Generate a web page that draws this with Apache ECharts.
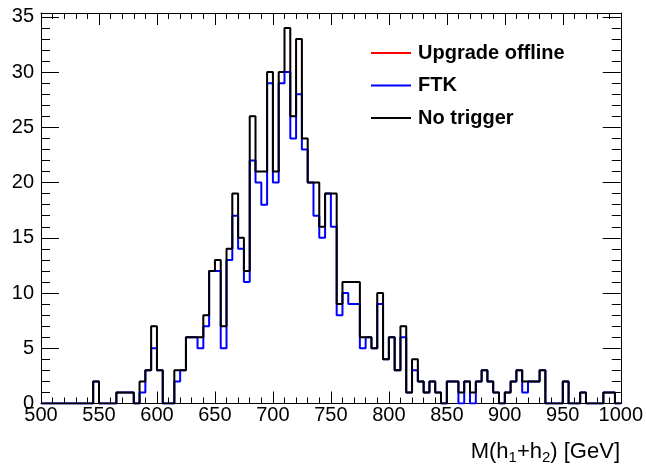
<!DOCTYPE html>
<html>
<head>
<meta charset="utf-8">
<script src="https://cdn.jsdelivr.net/npm/echarts@6/dist/echarts.min.js"></script>
<style>
  html, body { margin: 0; padding: 0; background: #fff; }
  #chart { width: 646px; height: 472px; }
</style>
</head>
<body>
<div id="chart"></div>
<script>
// 100 bins of 5 GeV from 500 to 1000
const binLow = 500;
const binWidth = 5;

const noTrigger = [
  0, 0, 0, 0, 0, 0, 0, 0, 0, 2,
  0, 0, 0, 1, 1, 1, 0, 2, 3, 7,
  3, 0, 0, 3, 3, 6, 6, 6, 8, 12,
  13, 7, 14, 19, 15, 12, 26, 21, 21, 30,
  21, 30, 34, 26, 33, 24, 20, 20, 16, 19,
  19, 9, 11, 11, 11, 6, 6, 5, 10, 4,
  6, 3, 7, 1, 4, 2, 1, 2, 1, 0,
  2, 2, 1, 2, 1, 2, 3, 2, 1, 0,
  1, 2, 3, 2, 2, 2, 3, 0, 0, 0,
  2, 0, 0, 1, 0, 0, 0, 1, 1, 0
];

const ftk = [
  0, 0, 0, 0, 0, 0, 0, 0, 0, 2,
  0, 0, 0, 1, 1, 1, 0, 1, 3, 5,
  3, 0, 0, 2, 3, 6, 6, 5, 7, 12,
  12, 5, 13, 17, 14, 11, 22, 20, 18, 29,
  20, 29, 30, 24, 28, 23, 20, 17, 15, 19,
  16, 8, 10, 9, 9, 5, 6, 5, 9, 4,
  6, 3, 6, 1, 3, 2, 1, 2, 1, 0,
  2, 2, 0, 2, 0, 2, 3, 2, 1, 0,
  1, 2, 3, 1, 2, 2, 3, 0, 0, 0,
  2, 0, 0, 1, 0, 0, 0, 1, 1, 0
];

// hidden under the black curve in the picture
const upgradeOffline = [
  0, 0, 0, 0, 0, 0, 0, 0, 0, 2,
  0, 0, 0, 1, 1, 1, 0, 2, 3, 7,
  3, 0, 0, 3, 3, 6, 6, 6, 8, 12,
  13, 7, 14, 19, 15, 12, 26, 21, 21, 30,
  21, 30, 34, 26, 33, 24, 20, 20, 16, 19,
  19, 9, 11, 11, 11, 6, 6, 5, 10, 4,
  6, 3, 7, 1, 4, 2, 1, 2, 1, 0,
  2, 2, 1, 2, 1, 2, 3, 2, 1, 0,
  1, 2, 3, 2, 2, 2, 3, 0, 0, 0,
  2, 0, 0, 1, 0, 0, 0, 1, 1, 0
];

const xTicks = [500, 550, 600, 650, 700, 750, 800, 850, 900, 950, 1000];
const yTicks = [0, 5, 10, 15, 20, 25, 30, 35];

function stepData(counts) {
  const pts = counts.map((c, i) => [binLow + i * binWidth, c]);
  pts.push([binLow + counts.length * binWidth, counts[counts.length - 1]]);
  return pts;
}

const font = 'Liberation Sans, Arial, sans-serif';
const black = '#000';

function xAxisDef(pos, labels) {
  return {
    type: 'value', position: pos, min: 500, max: 1000, interval: 50,
    axisLine: { show: true, onZero: false, lineStyle: { color: black, width: 1 } },
    axisTick: { show: true, inside: true, length: 12, lineStyle: { color: black } },
    minorTick: { show: true, splitNumber: 5, length: 6, lineStyle: { color: black } },
    splitLine: { show: false },
    axisLabel: {
      show: labels, margin: 2, color: black, fontFamily: font, fontSize: 20,
      formatter: v => xTicks.includes(v) ? String(v) : ''
    }
  };
}

function yAxisDef(pos, labels) {
  return {
    type: 'value', position: pos, min: 0, max: 35.35, interval: 5,
    axisLine: { show: true, onZero: false, lineStyle: { color: black, width: 1 } },
    axisTick: { show: true, inside: true, length: 18, lineStyle: { color: black } },
    minorTick: { show: true, splitNumber: 5, length: 9, lineStyle: { color: black } },
    splitLine: { show: false },
    axisLabel: {
      show: labels, margin: 7, color: black, fontFamily: font, fontSize: 20,
      formatter: v => yTicks.includes(v) ? String(v) : ''
    }
  };
}

function histSeries(name, counts, color, width) {
  return {
    name: name, type: 'line', step: 'end', data: stepData(counts),
    showSymbol: false, symbol: 'none', clip: true,
    lineStyle: { color: color, width: width }, itemStyle: { color: color }
  };
}

const chart = echarts.init(document.getElementById('chart'));
chart.setOption({
  animation: false,
  backgroundColor: '#fff',
  grid: { left: 41, right: 25, top: 13, bottom: 68.5 },
  xAxis: [xAxisDef('bottom', true), xAxisDef('top', false)],
  yAxis: [yAxisDef('left', true), yAxisDef('right', false)],
  legend: {
    orient: 'vertical', left: 366, top: 37, itemGap: 10.5,
    icon: 'rect', itemWidth: 40, itemHeight: 2,
    textStyle: { fontFamily: font, fontSize: 20, fontWeight: 'bold', color: black, lineHeight: 22, padding: [0, 0, 0, 2] },
    data: ['Upgrade offline', 'FTK', 'No trigger']
  },
  graphic: [{
    type: 'text', right: 26, top: 439,
    style: {
      text: '{a|M(h}{b|1}{a|+h}{b|2}{a|) [GeV]}',
      fill: black,
      rich: {
        a: { fontFamily: font, fontSize: 22, lineHeight: 24, verticalAlign: 'top' },
        b: { fontFamily: font, fontSize: 15, lineHeight: 16, padding: [11, 0, 0, 0], verticalAlign: 'bottom' }
      }
    }
  }],
  series: [
    histSeries('Upgrade offline', upgradeOffline, '#ff0000', 1),
    histSeries('FTK', ftk, '#0000ff', 2),
    histSeries('No trigger', noTrigger, black, 2)
  ]
});
</script>
</body>
</html>
